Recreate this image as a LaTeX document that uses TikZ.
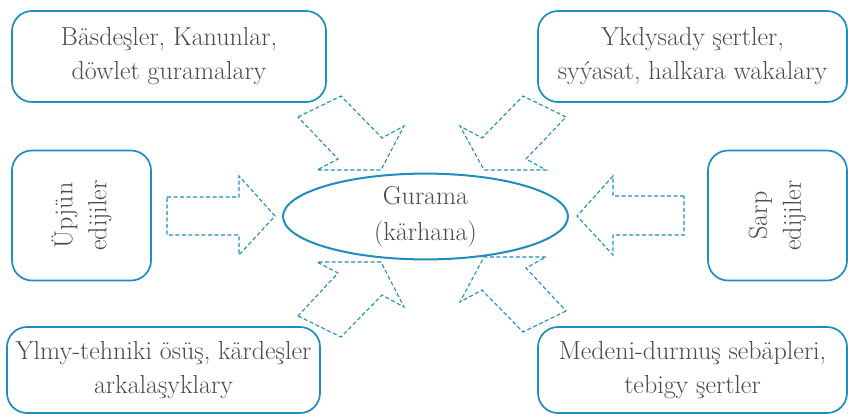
\documentclass[tikz,border=0pt]{standalone}
\usepackage{fontspec}
\usetikzlibrary{shapes.geometric}
\definecolor{boxblue}{HTML}{1F8DC0}
\definecolor{txtgray}{HTML}{4A4A4A}
\begin{document}
\begin{tikzpicture}[x=1pt,y=-1pt,
  box/.style={draw=boxblue,line width=1.7pt,rounded corners=20pt,inner sep=0pt,
    text=txtgray,align=center,font=\fontsize{26}{34}\selectfont},
  hub/.style={draw=boxblue,line width=2pt,ellipse,inner sep=0pt,minimum width=285pt,minimum height=73pt,
    text=txtgray,align=center,font=\fontsize{26}{36}\selectfont},
  blockarrow/.style={draw=boxblue,line width=1.1pt,dash pattern=on 4pt off 2.5pt,line join=miter}]
\useasboundingbox[fill=white] (0,0) rectangle (848,413);
% boxes
\node[box,minimum width=314pt,minimum height=91pt] (tl) at (169,56.5) {Bäsdeşler, Kanunlar,\\döwlet guramalary};
\node[box,minimum width=309pt,minimum height=91pt] (tr) at (692.5,56.5) {Ykdysady şertler,\\syýasat, halkara wakalary};
\node[box,rotate=90,minimum width=130pt,minimum height=139pt] (ml) at (81.5,215.5) {Üpjün\\edijiler};
\node[box,rotate=90,minimum width=130pt,minimum height=139pt] (mr) at (777.5,215.5) {Sarp\\edijiler};
\node[box,minimum width=313pt,minimum height=86pt] (bl) at (163.5,370) {Ylmy-tehniki ösüş, kärdeşler\\arkalaşyklary};
\node[box,minimum width=309pt,minimum height=86pt] (br) at (692.5,370) {Medeni-durmuş sebäpleri,\\tebigy şertler};
\node[hub] (hub) at (425.5,216.5) {Gurama\\(kärhana)};
% block arrows
\draw[blockarrow] (167,197) -- (239,197) -- (239,176) -- (275,216) -- (239,255) -- (239,235) -- (167,235) -- cycle;
\draw[blockarrow] (684,196) -- (613,196) -- (613,176) -- (577,216) -- (613,255) -- (613,235) -- (684,235) -- cycle;
\draw[blockarrow] (298,117) -- (341,96) -- (382,138) -- (404,126) -- (381,170) -- (317,170) -- (338,159) -- cycle;
\draw[blockarrow] (566,117) -- (523,96) -- (482,138) -- (460,126) -- (484,170) -- (546,170) -- (526,159) -- cycle;
\draw[blockarrow] (298,316) -- (341,337) -- (382,295) -- (404,307) -- (381,262) -- (317,262) -- (338,273) -- cycle;
\draw[blockarrow] (566,311) -- (523,332) -- (482,290) -- (460,302) -- (484,257) -- (546,257) -- (526,268) -- cycle;
\end{tikzpicture}
\end{document}
